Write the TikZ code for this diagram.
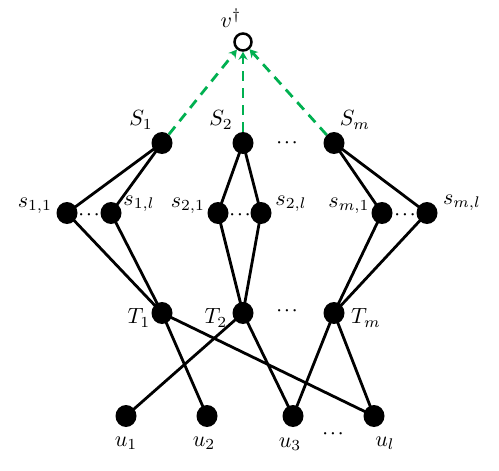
\documentclass[tikz,border=0pt]{standalone}
\usetikzlibrary{arrows.meta,shapes.geometric}
\definecolor{dgreen}{RGB}{0,176,80}
\begin{document}
\begin{tikzpicture}[x=1pt,y=-1pt,
  vtx/.style={ellipse,fill=black,minimum width=21pt,minimum height=22pt,inner sep=0pt},
  root/.style={circle,draw=black,line width=2.5pt,minimum size=17pt,inner sep=0pt},
  lab/.style={scale=2.2,inner sep=0pt},
  dots/.style={scale=1.5,inner sep=0pt,font=\boldmath},
  edge/.style={line width=2.8pt},
  gedge/.style={dgreen,line width=2.8pt,dash pattern=on 10pt off 7pt,-{Stealth[length=8pt,width=9pt]}}]
\useasboundingbox (0,0) rectangle (499,471);
% root
\node[root] (v) at (243,42) {};
\node[lab] (lv) at (231,18) {$v^{\dagger}$};
% S layer
\node[vtx] (S1) at (162,143) {};
\node[vtx] (S2) at (243,143) {};
\node[vtx] (Sm) at (334,143) {};
\node[lab] (lS1) at (141,120) {$S_1$};
\node[lab] (lS2) at (221,120) {$S_2$};
\node[lab] (lSm) at (355,120) {$S_m$};
\node[dots] (dS) at (287,143) {$\cdots$};
% s layer
\node[vtx] (s11) at (67,213) {};
\node[vtx] (s1l) at (111,213) {};
\node[vtx] (s21) at (218,213) {};
\node[vtx] (s2l) at (261,213) {};
\node[vtx] (sm1) at (382,213) {};
\node[vtx] (sml) at (427,213) {};
\node[dots] (d1) at (89,215) {$\cdots$};
\node[dots] (d2) at (240,215) {$\cdots$};
\node[dots] (d3) at (405,215) {$\cdots$};
\node[lab] (ls11) at (35,206) {$s_{1,1}$};
\node[lab] (ls1l) at (139,204) {$s_{1,l}$};
\node[lab] (ls21) at (188,206) {$s_{2,1}$};
\node[lab] (ls2l) at (291,204) {$s_{2,l}$};
\node[lab] (lsm1) at (349,206) {$s_{m,1}$};
\node[lab] (lsml) at (462,203) {$s_{m,l}$};
% T layer
\node[vtx] (T1) at (162,313) {};
\node[vtx] (T2) at (243,313) {};
\node[vtx] (Tm) at (334,313) {};
\node[lab] (lT1) at (139,318) {$T_1$};
\node[lab] (lT2) at (216,318) {$T_2$};
\node[lab] (lTm) at (366,318) {$T_m$};
\node[dots] (dT) at (287,311) {$\cdots$};
% u layer
\node[vtx] (u1) at (126,416) {};
\node[vtx] (u2) at (207,416) {};
\node[vtx] (u3) at (293,416) {};
\node[vtx] (ul) at (374,416) {};
\node[lab] (lu1) at (126,443) {$u_1$};
\node[lab] (lu2) at (204,443) {$u_2$};
\node[lab] (lu3) at (290,444) {$u_3$};
\node[lab] (lul) at (385,443) {$u_l$};
\node[dots] (du) at (333,434) {$\cdots$};
% edges
\draw[edge] (S1.center) -- (s11.center) -- (T1.center) -- (s1l.center) -- (S1.center);
\draw[edge] (S2.center) -- (s21.center) -- (T2.center) -- (s2l.center) -- (S2.center);
\draw[edge] (Sm.center) -- (sm1.center) -- (Tm.center) -- (sml.center) -- (Sm.center);
\draw[edge] (T1.center) -- (u2.center);
\draw[edge] (T1.center) -- (ul.center);
\draw[edge] (T2.center) -- (u1.center);
\draw[edge] (T2.center) -- (u3.center);
\draw[edge] (Tm.center) -- (u3.center);
\draw[edge] (Tm.center) -- (ul.center);
% green dashed arrows
\draw[gedge] (S1) -- (v);
\draw[gedge] (S2) -- (v);
\draw[gedge] (Sm) -- (v);
\end{tikzpicture}
\end{document}
